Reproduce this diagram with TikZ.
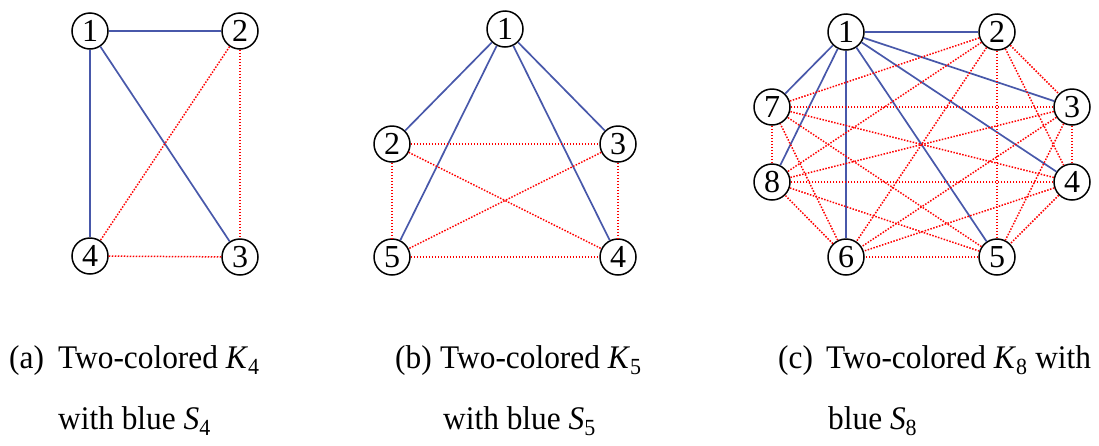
\documentclass[tikz,border=0pt]{standalone}
\usepackage{fontspec}
\setmainfont{Liberation Serif}
\newfontfamily\capfont[FakeStretch=0.95]{Liberation Serif}
\begin{document}
\begin{tikzpicture}[x=1pt,y=-1pt,
  vtx/.style={circle,draw,line width=1.5pt,fill=white,minimum size=36pt,inner sep=0pt,font=\fontsize{32}{32}\selectfont},
  blue edge/.style={draw=bluecol,line width=1.7pt},
  red edge/.style={draw=red,line width=1.5pt,dash pattern=on 1.5pt off 1.5pt},
  captext/.style={anchor=base west,inner sep=0pt,font=\capfont\fontsize{33}{33}\selectfont}]
\definecolor{bluecol}{RGB}{72,88,170}
\useasboundingbox (0,0) rectangle (1099,445);
% (a)
\node[vtx] (a1) at (90,31) {1};
\node[vtx] (a2) at (240,31) {2};
\node[vtx] (a3) at (240,257) {3};
\node[vtx] (a4) at (90,256) {4};
\draw[blue edge] (a1) -- (a2);
\draw[blue edge] (a1) -- (a4);
\draw[blue edge] (a1) -- (a3);
\draw[red edge] (a2) -- (a4);
\draw[red edge] (a2) -- (a3);
\draw[red edge] (a4) -- (a3);
% (b)
\node[vtx] (b1) at (505,29) {1};
\node[vtx] (b2) at (392,144) {2};
\node[vtx] (b3) at (618,144) {3};
\node[vtx] (b4) at (618,257) {4};
\node[vtx] (b5) at (392,257) {5};
\foreach \j in {2,3,4,5} {\draw[blue edge] (b1) -- (b\j);}
\foreach \i/\j in {2/3,2/4,2/5,3/5,3/4,5/4} {\draw[red edge] (b\i) -- (b\j);}
% (c)
\node[vtx] (c1) at (846,32) {1};
\node[vtx] (c2) at (997,32) {2};
\node[vtx] (c3) at (1072,107) {3};
\node[vtx] (c4) at (1072,182) {4};
\node[vtx] (c5) at (997,257) {5};
\node[vtx] (c6) at (846,257) {6};
\node[vtx] (c7) at (772,107) {7};
\node[vtx] (c8) at (772,182) {8};
\foreach \j in {2,...,8} {\draw[blue edge] (c1) -- (c\j);}
\foreach \i in {2,...,7} {
  \pgfmathtruncatemacro{\s}{\i+1}
  \foreach \j in {\s,...,8} {\draw[red edge] (c\i) -- (c\j);}
}
% captions
\node[captext] (ta) at (9,368) {(a)};
\node[captext] (tb) at (395,368) {(b)};
\node[captext] (tc) at (778,368) {(c)};
\node[captext] (la1) at (58,368) {Two-colored \textit{K}\textsubscript{4}};
\node[captext] (la2) at (58,429) {with blue \textit{S}\textsubscript{4}};
\node[captext] (lb1) at (440,368) {Two-colored \textit{K}\textsubscript{5}};
\node[captext] (lb2) at (443,429) {with blue \textit{S}\textsubscript{5}};
\node[captext] (lc1) at (826,368) {Two-colored \textit{K}\textsubscript{8} with};
\node[captext] (lc2) at (828,429) {blue \textit{S}\textsubscript{8}};
\end{tikzpicture}
\end{document}
